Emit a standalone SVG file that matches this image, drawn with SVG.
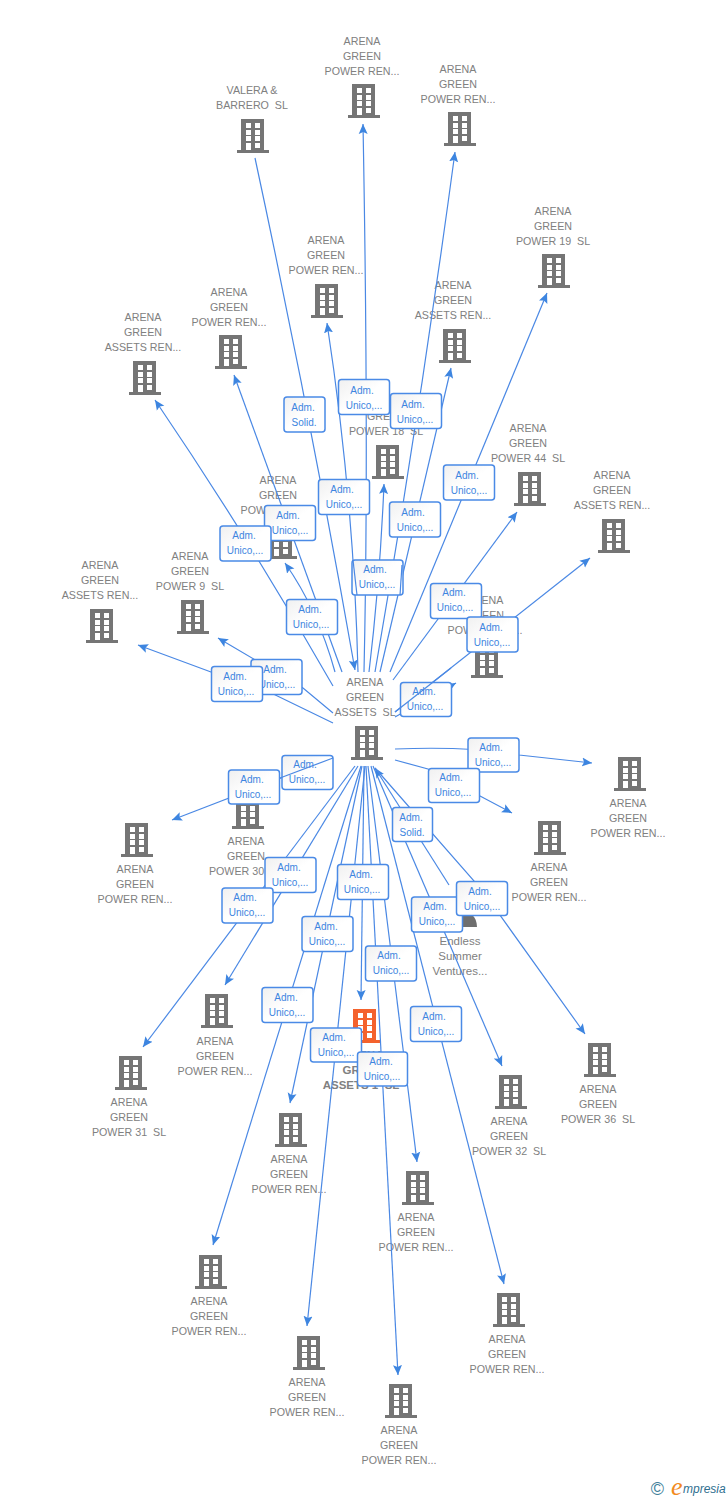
<svg xmlns="http://www.w3.org/2000/svg" width="728" height="1500" viewBox="0 0 728 1500">
<style>
.l{font:10.7px "Liberation Sans",Arial,sans-serif;fill:#808080;text-anchor:middle;white-space:pre}
.c{fill:none;stroke:#4a88e4;stroke-width:1.2;marker-end:url(#a)}
.o{fill:none;stroke:#4a88e4;stroke-width:1.2}
.b{fill:url(#g);stroke:#4a8ae6;stroke-width:1.5}
.t{font:10px "Liberation Sans",Arial,sans-serif;fill:#3d85e0;text-anchor:middle}
.i{color:#757575}
</style>
<defs>
<linearGradient id="g" x1="0" y1="0" x2="1" y2="1"><stop offset="0" stop-color="#f0f0f0"/><stop offset=".5" stop-color="#ffffff"/></linearGradient>
<marker id="a" markerUnits="userSpaceOnUse" markerWidth="11" markerHeight="10" refX="10" refY="5" orient="auto"><path d="M0 .5L10 5L0 9.500L2 5Z" fill="#3d85e0"/></marker>
<symbol id="h" width="32" height="34" viewBox="0 0 32 34" overflow="visible"><path d="M4 0H27V31H32V34H0V31H4Z" fill="currentColor"/><path d="M9 4h5v5H9zM18 4h5v5h-5zM9 11h5v5H9zM18 11h5v5h-5zM9 17h5v5H9zM18 17h5v5h-5zM18 24h5v5h-5zM9 24h5v7H9z" fill="#fff"/></symbol>
</defs>
<rect width="728" height="1500" fill="#fff"/>
<g id="nodes">
<g id="n1" class="i"><use href="#h" x="237" y="119"/><text class="l" y="94"><tspan x="252">VALERA &amp;</tspan><tspan x="252" dy="15">BARRERO  SL</tspan></text></g>
<g id="n2" class="i"><use href="#h" x="348" y="84"/><text class="l" y="45"><tspan x="362">ARENA</tspan><tspan x="362" dy="15">GREEN</tspan><tspan x="362" dy="15">POWER REN...</tspan></text></g>
<g id="n3" class="i"><use href="#h" x="444" y="112"/><text class="l" y="73"><tspan x="458">ARENA</tspan><tspan x="458" dy="15">GREEN</tspan><tspan x="458" dy="15">POWER REN...</tspan></text></g>
<g id="n4" class="i"><use href="#h" x="538" y="254"/><text class="l" y="215"><tspan x="553">ARENA</tspan><tspan x="553" dy="15">GREEN</tspan><tspan x="553" dy="15">POWER 19  SL</tspan></text></g>
<g id="n5" class="i"><use href="#h" x="311" y="284"/><text class="l" y="244"><tspan x="326">ARENA</tspan><tspan x="326" dy="15">GREEN</tspan><tspan x="326" dy="15">POWER REN...</tspan></text></g>
<g id="n6" class="i"><use href="#h" x="439" y="329"/><text class="l" y="289"><tspan x="453">ARENA</tspan><tspan x="453" dy="15">GREEN</tspan><tspan x="453" dy="15">ASSETS REN...</tspan></text></g>
<g id="n7" class="i"><use href="#h" x="215" y="335"/><text class="l" y="296"><tspan x="229">ARENA</tspan><tspan x="229" dy="15">GREEN</tspan><tspan x="229" dy="15">POWER REN...</tspan></text></g>
<g id="n8" class="i"><use href="#h" x="129" y="361"/><text class="l" y="321"><tspan x="143">ARENA</tspan><tspan x="143" dy="15">GREEN</tspan><tspan x="143" dy="15">ASSETS REN...</tspan></text></g>
<g id="n9" class="i"><use href="#h" x="372" y="445"/><text class="l" y="405"><tspan x="386">ARENA</tspan><tspan x="386" dy="15">GREEN</tspan><tspan x="386" dy="15">POWER 18  SL</tspan></text></g>
<g id="n10" class="i"><use href="#h" x="514" y="472"/><text class="l" y="432"><tspan x="528">ARENA</tspan><tspan x="528" dy="15">GREEN</tspan><tspan x="528" dy="15">POWER 44  SL</tspan></text></g>
<g id="n11" class="i"><use href="#h" x="598" y="519"/><text class="l" y="479"><tspan x="612">ARENA</tspan><tspan x="612" dy="15">GREEN</tspan><tspan x="612" dy="15">ASSETS REN...</tspan></text></g>
<g id="n12" class="i"><use href="#h" x="265" y="525"/><text class="l" y="484"><tspan x="278">ARENA</tspan><tspan x="278" dy="15">GREEN</tspan><tspan x="278" dy="15">POWER REN...</tspan></text></g>
<g id="n13" class="i"><use href="#h" x="177" y="600"/><text class="l" y="560"><tspan x="190">ARENA</tspan><tspan x="190" dy="15">GREEN</tspan><tspan x="190" dy="15">POWER 9  SL</tspan></text></g>
<g id="n14" class="i"><use href="#h" x="86" y="609"/><text class="l" y="569"><tspan x="100">ARENA</tspan><tspan x="100" dy="15">GREEN</tspan><tspan x="100" dy="15">ASSETS REN...</tspan></text></g>
<g id="n15" class="i"><use href="#h" x="471" y="644"/><text class="l" y="604"><tspan x="485">ARENA</tspan><tspan x="485" dy="15">GREEN</tspan><tspan x="485" dy="15">POWER REN...</tspan></text></g>
<g id="center" class="i"><use href="#h" x="351" y="726"/><text class="l" y="686"><tspan x="365">ARENA</tspan><tspan x="365" dy="15">GREEN</tspan><tspan x="365" dy="15">ASSETS  SL</tspan></text></g>
<g id="n16" class="i"><use href="#h" x="614" y="757"/><text class="l" y="807"><tspan x="628">ARENA</tspan><tspan x="628" dy="15">GREEN</tspan><tspan x="628" dy="15">POWER REN...</tspan></text></g>
<g id="n17" class="i"><use href="#h" x="534" y="821"/><text class="l" y="871"><tspan x="549">ARENA</tspan><tspan x="549" dy="15">GREEN</tspan><tspan x="549" dy="15">POWER REN...</tspan></text></g>
<g id="n18" class="i"><use href="#h" x="121" y="823"/><text class="l" y="873"><tspan x="135">ARENA</tspan><tspan x="135" dy="15">GREEN</tspan><tspan x="135" dy="15">POWER REN...</tspan></text></g>
<g id="n19" class="i"><use href="#h" x="232" y="795"/><text class="l" y="845"><tspan x="246">ARENA</tspan><tspan x="246" dy="15">GREEN</tspan><tspan x="246" dy="15">POWER 30  SL</tspan></text></g>
<g id="endless"><path d="M445 927C445 905 477 905 477 927Z" fill="#6f6f6f"/><text class="l" y="945" style="font-size:11.500px"><tspan x="460">Endless</tspan><tspan x="460" dy="15">Summer</tspan><tspan x="460" dy="15">Ventures...</tspan></text></g>
<g id="n20" class="i"><use href="#h" x="201" y="994"/><text class="l" y="1045"><tspan x="215">ARENA</tspan><tspan x="215" dy="15">GREEN</tspan><tspan x="215" dy="15">POWER REN...</tspan></text></g>
<g id="n21" class="i"><use href="#h" x="115" y="1056"/><text class="l" y="1106"><tspan x="129">ARENA</tspan><tspan x="129" dy="15">GREEN</tspan><tspan x="129" dy="15">POWER 31  SL</tspan></text></g>
<g id="n22" class="i"><use href="#h" x="584" y="1043"/><text class="l" y="1093"><tspan x="598">ARENA</tspan><tspan x="598" dy="15">GREEN</tspan><tspan x="598" dy="15">POWER 36  SL</tspan></text></g>
<g id="n23" class="i"><use href="#h" x="495" y="1075"/><text class="l" y="1125"><tspan x="509">ARENA</tspan><tspan x="509" dy="15">GREEN</tspan><tspan x="509" dy="15">POWER 32  SL</tspan></text></g>
<g id="focus" style="color:#f4622d"><use href="#h" x="349" y="1009"/><text class="l" y="1059" style="font-weight:bold;font-size:11.500px"><tspan x="363">ARENA</tspan><tspan x="363" dy="15">GREEN</tspan><tspan x="361" dy="15">ASSETS 1  SL</tspan></text></g>
<g id="n24" class="i"><use href="#h" x="275" y="1113"/><text class="l" y="1163"><tspan x="289">ARENA</tspan><tspan x="289" dy="15">GREEN</tspan><tspan x="289" dy="15">POWER REN...</tspan></text></g>
<g id="n25" class="i"><use href="#h" x="402" y="1171"/><text class="l" y="1221"><tspan x="416">ARENA</tspan><tspan x="416" dy="15">GREEN</tspan><tspan x="416" dy="15">POWER REN...</tspan></text></g>
<g id="n26" class="i"><use href="#h" x="195" y="1255"/><text class="l" y="1305"><tspan x="209">ARENA</tspan><tspan x="209" dy="15">GREEN</tspan><tspan x="209" dy="15">POWER REN...</tspan></text></g>
<g id="n27" class="i"><use href="#h" x="293" y="1336"/><text class="l" y="1386"><tspan x="307">ARENA</tspan><tspan x="307" dy="15">GREEN</tspan><tspan x="307" dy="15">POWER REN...</tspan></text></g>
<g id="n28" class="i"><use href="#h" x="493" y="1293"/><text class="l" y="1343"><tspan x="507">ARENA</tspan><tspan x="507" dy="15">GREEN</tspan><tspan x="507" dy="15">POWER REN...</tspan></text></g>
<g id="n29" class="i"><use href="#h" x="385" y="1384"/><text class="l" y="1434"><tspan x="399">ARENA</tspan><tspan x="399" dy="15">GREEN</tspan><tspan x="399" dy="15">POWER REN...</tspan></text></g>
</g>
<g id="connectors">
<path class="c" d="M255 158Q310 414 355 670"/>
<path class="c" d="M364 672Q369 450 363 124"/>
<path class="c" d="M375 672Q420 412 455 152"/>
<path class="c" d="M390 672L547 293"/>
<path class="c" d="M358 672Q354 500 327 323"/>
<path class="c" d="M380 672L451 368"/>
<path class="c" d="M342 672L234 375"/>
<path class="c" d="M333 686Q250 540 155 400"/>
<path class="c" d="M369 672Q380 580 384 484"/>
<path class="c" d="M393 680L517 512"/>
<path class="c" d="M395 712L590 558"/>
<path class="c" d="M335 672Q318 610 285 563"/>
<path class="c" d="M333 713L303 688L218 638"/>
<path class="c" d="M333 723L263 689L211 672L138 645"/>
<path class="c" d="M395 717L456 683"/>
<path class="c" d="M395 749Q470 746 519 755L592 763"/>
<path class="c" d="M395 760L428 769L480 796L512 813"/>
<path class="c" d="M333 758L172 820"/>
<path class="c" d="M355 766L143 1047"/>
<path class="c" d="M358 766L225 985"/>
<path class="c" d="M362 766L290 1103"/>
<path class="c" d="M361 766L213 1245"/>
<path class="c" d="M365 766L307 1326"/>
<path class="c" d="M364 766L361 1000"/>
<path class="c" d="M366 766L398 1375"/>
<path class="c" d="M368 766L417 1162"/>
<path class="c" d="M371 766L504 1284"/>
<path class="c" d="M373 766L502 1066"/>
<path class="c" d="M449 885L375 768"/>
<path class="c" d="M375 768L482 890L585 1034"/>
</g>
<g id="labels">
<g><rect class="b" x="284" y="397" width="41" height="35" rx="3"/><text class="t" y="411"><tspan x="303">Adm.</tspan><tspan x="304" dy="15">Solid.</tspan></text></g>
<g><rect class="b" x="338.500" y="379.500" width="51" height="35" rx="3"/><text class="t" y="394"><tspan x="362">Adm.</tspan><tspan x="364" dy="15">Unico,...</tspan></text></g>
<g><rect class="b" x="390.500" y="393.500" width="51" height="35" rx="3"/><text class="t" y="408"><tspan x="413">Adm.</tspan><tspan x="415" dy="15">Unico,...</tspan></text></g>
<g><rect class="b" x="443.500" y="465" width="51" height="35" rx="3"/><text class="t" y="479"><tspan x="467">Adm.</tspan><tspan x="469" dy="15">Unico,...</tspan></text></g>
<g><rect class="b" x="318.500" y="479.500" width="51" height="35" rx="3"/><text class="t" y="493"><tspan x="342">Adm.</tspan><tspan x="344" dy="15">Unico,...</tspan></text></g>
<g><rect class="b" x="389.500" y="502" width="51" height="35" rx="3"/><text class="t" y="516"><tspan x="413">Adm.</tspan><tspan x="415" dy="15">Unico,...</tspan></text></g>
<g><rect class="b" x="264.500" y="505.500" width="51" height="35" rx="3"/><text class="t" y="519"><tspan x="288">Adm.</tspan><tspan x="290" dy="15">Unico,...</tspan></text></g>
<g><rect class="b" x="220" y="526" width="51" height="35" rx="3"/><text class="t" y="539"><tspan x="244">Adm.</tspan><tspan x="245" dy="15">Unico,...</tspan></text></g>
<g><rect class="b" x="352" y="560" width="51" height="35" rx="3"/><text class="t" y="573"><tspan x="375">Adm.</tspan><tspan x="377" dy="15">Unico,...</tspan></text></g>
<g><rect class="b" x="430.500" y="583.500" width="51" height="35" rx="3"/><text class="t" y="596"><tspan x="454">Adm.</tspan><tspan x="455" dy="15">Unico,...</tspan></text></g>
<g><rect class="b" x="286.500" y="599.500" width="51" height="35" rx="3"/><text class="t" y="613"><tspan x="310">Adm.</tspan><tspan x="311" dy="15">Unico,...</tspan></text></g>
<g><rect class="b" x="467" y="617" width="51" height="35" rx="3"/><text class="t" y="631"><tspan x="491">Adm.</tspan><tspan x="492" dy="15">Unico,...</tspan></text></g>
<g><rect class="b" x="251" y="659.500" width="51" height="35" rx="3"/><text class="t" y="673"><tspan x="275">Adm.</tspan><tspan x="277" dy="15">Unico,...</tspan></text></g>
<g><rect class="b" x="211.500" y="666.500" width="51" height="35" rx="3"/><text class="t" y="680"><tspan x="235">Adm.</tspan><tspan x="236" dy="15">Unico,...</tspan></text></g>
<g><rect class="b" x="400.500" y="682.500" width="51" height="34" rx="3"/><text class="t" y="695"><tspan x="424">Adm.</tspan><tspan x="425" dy="15">Unico,...</tspan></text></g>
<g><rect class="b" x="468" y="738" width="51" height="34" rx="3"/><text class="t" y="751"><tspan x="491">Adm.</tspan><tspan x="493" dy="15">Unico,...</tspan></text></g>
<g><rect class="b" x="428.500" y="768.500" width="51" height="34" rx="3"/><text class="t" y="781"><tspan x="451">Adm.</tspan><tspan x="453" dy="15">Unico,...</tspan></text></g>
<g><rect class="b" x="282" y="755.500" width="51" height="34" rx="3"/><text class="t" y="768"><tspan x="305">Adm.</tspan><tspan x="307" dy="15">Unico,...</tspan></text></g>
<g><rect class="b" x="228.500" y="770" width="51" height="34" rx="3"/><text class="t" y="783"><tspan x="252">Adm.</tspan><tspan x="253" dy="15">Unico,...</tspan></text></g>
<g><rect class="b" x="392.500" y="807.500" width="40" height="34" rx="3"/><text class="t" y="821"><tspan x="411">Adm.</tspan><tspan x="412" dy="15">Solid.</tspan></text></g>
<g><rect class="b" x="265" y="857.500" width="51" height="35" rx="3"/><text class="t" y="871"><tspan x="289">Adm.</tspan><tspan x="290" dy="15">Unico,...</tspan></text></g>
<g><rect class="b" x="337.500" y="864.500" width="51" height="35" rx="3"/><text class="t" y="878"><tspan x="361">Adm.</tspan><tspan x="362" dy="15">Unico,...</tspan></text></g>
<g><rect class="b" x="222" y="888" width="51" height="35" rx="3"/><text class="t" y="901"><tspan x="245">Adm.</tspan><tspan x="247" dy="15">Unico,...</tspan></text></g>
<g><rect class="b" x="411.500" y="897" width="51" height="35" rx="3"/><text class="t" y="910"><tspan x="435">Adm.</tspan><tspan x="437" dy="15">Unico,...</tspan></text></g>
<g><rect class="b" x="456.500" y="881.500" width="51" height="34" rx="3"/><text class="t" y="895"><tspan x="480">Adm.</tspan><tspan x="482" dy="15">Unico,...</tspan></text></g>
<g><rect class="b" x="302" y="916.500" width="51" height="35" rx="3"/><text class="t" y="930"><tspan x="326">Adm.</tspan><tspan x="327" dy="15">Unico,...</tspan></text></g>
<g><rect class="b" x="365.500" y="946" width="51" height="35" rx="3"/><text class="t" y="959"><tspan x="389">Adm.</tspan><tspan x="391" dy="15">Unico,...</tspan></text></g>
<g><rect class="b" x="262" y="987.500" width="51" height="35" rx="3"/><text class="t" y="1001"><tspan x="286">Adm.</tspan><tspan x="287" dy="15">Unico,...</tspan></text></g>
<g><rect class="b" x="410.500" y="1006.500" width="51" height="35" rx="3"/><text class="t" y="1020"><tspan x="434">Adm.</tspan><tspan x="436" dy="15">Unico,...</tspan></text></g>
<g><rect class="b" x="310.500" y="1028" width="51" height="34" rx="3"/><text class="t" y="1041"><tspan x="334">Adm.</tspan><tspan x="336" dy="15">Unico,...</tspan></text></g>
<g><rect class="b" x="357.500" y="1052" width="50" height="34" rx="3"/><text class="t" y="1065"><tspan x="381">Adm.</tspan><tspan x="382" dy="15">Unico,...</tspan></text></g>
</g>
<g id="connectors-over">
<path class="o" d="M333 758L280 778"/>
<path class="o" d="M395 712L451 668"/>
<path class="o" d="M353 560L357 595"/>
<path class="o" d="M402 565L400 595"/>
</g>
<g id="brand">
<text x="657.500" y="1495" font-family="Liberation Sans,sans-serif" font-size="18" fill="#3f7f9b" text-anchor="middle">©</text>
<text x="671" y="1495" font-family="Liberation Serif,serif" font-size="26" font-style="italic" fill="#f28a1e">e</text>
<text x="683" y="1493" font-family="Liberation Sans,sans-serif" font-size="12" font-style="italic" fill="#2f6f8f">mpresia</text>
</g>
</svg>
